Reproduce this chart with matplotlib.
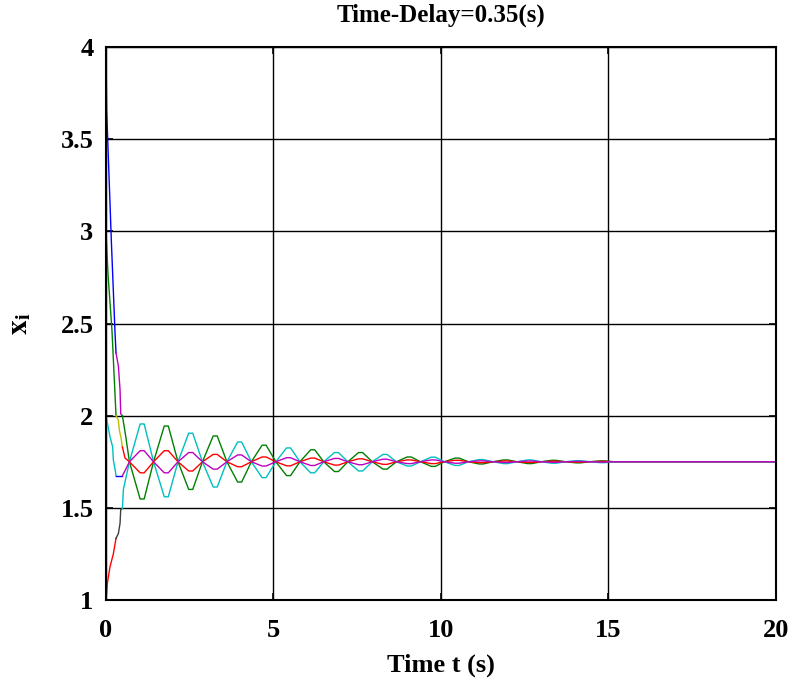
import matplotlib.pyplot as plt
from matplotlib.ticker import FormatStrFormatter

plt.rcParams['font.family'] = ['Liberation Serif', 'DejaVu Serif']
plt.rcParams['mathtext.fontset'] = 'stix'

# classic MATLAB colour order: b g r c m y k
matlab_colors = [(0, 0, 1), (0, 0.5, 0), (1, 0, 0), (0, 0.75, 0.75),
                 (0.75, 0, 0.75), (0.75, 0.75, 0), (0.25, 0.25, 0.25)]

# ---- interval 1: start-up (no delayed information yet)
a1_t1 = [0, 0.02, 0.16, 0.27, 0.30]
a1_y1 = [4.0, 3.66, 2.95, 2.45, 2.34]
a2_t1 = [0, 0.06, 0.18, 0.30]
a2_y1 = [3.0, 2.77, 2.46, 2.0]
a3_t1 = [0, 0.02, 0.04, 0.12, 0.22, 0.30]
a3_y1 = [1.0, 1.036, 1.09, 1.18, 1.25, 1.335]
a4_t1 = [0, 0.12, 0.20, 0.22, 0.28, 0.30]
a4_y1 = [2.0, 1.886, 1.83, 1.76, 1.70, 1.673]

# ---- interval 2
a1_t2 = [0.30, 0.37, 0.42, 0.44, 0.49]
a1_y2 = [2.34, 2.27, 2.14, 2.01, 2.0]
a2_t2 = [0.30, 0.37, 0.40, 0.45, 0.49]
a2_y2 = [2.0, 1.975, 1.92, 1.88, 1.83]
a3_t2 = [0.30, 0.37, 0.42, 0.44, 0.49]
a3_y2 = [1.335, 1.36, 1.416, 1.49, 1.497]
a4_t2 = [0.30, 0.49]
a4_y2 = [1.673, 1.673]

# ---- interval 3: delayed consensus, oscillating to the common value
a1_t3 = [0.49, 0.58]
a1_y3 = [2.0, 1.90]
a2_t3 = [0.49, 0.57]
a2_y3 = [1.83, 1.77]
a3_t3 = [0.49, 0.52]
a3_y3 = [1.497, 1.60]
a4_t3 = [0.49]
a4_y3 = [1.673]

t_osc = [0.70, 1.02, 1.14, 1.42, 1.74, 1.86, 2.15, 2.47, 2.59, 2.88, 3.20, 3.32,
         3.61, 3.93, 4.05, 4.34, 4.66, 4.78, 5.07, 5.39, 5.51, 5.79, 6.11, 6.23,
         6.50, 6.82, 6.94, 7.22, 7.54, 7.66, 7.95, 8.27, 8.39, 8.67, 8.99, 9.11,
         9.39, 9.71, 9.83, 10.10, 10.42, 10.54, 10.82, 11.14, 11.26, 11.55, 11.87, 11.99,
         12.27, 12.59, 12.71, 12.99, 13.31, 13.43, 13.72, 14.04, 14.16, 14.44, 14.76, 14.88,
         15.16, 20.0]

a1_osc = [1.75, 1.548, 1.548, 1.75, 1.944, 1.944, 1.75, 1.60, 1.60, 1.75, 1.89, 1.89,
          1.75, 1.64, 1.64, 1.75, 1.84, 1.84, 1.75, 1.675, 1.675, 1.75, 1.815, 1.815,
          1.75, 1.697, 1.697, 1.75, 1.80, 1.80, 1.75, 1.71, 1.71, 1.75, 1.776, 1.776,
          1.75, 1.725, 1.725, 1.75, 1.77, 1.77, 1.75, 1.738, 1.738, 1.75, 1.76, 1.76,
          1.75, 1.74, 1.74, 1.75, 1.758, 1.758, 1.75, 1.744, 1.744, 1.75, 1.755, 1.755,
          1.75, 1.75]
a2_osc = [1.75, 1.69, 1.69, 1.75, 1.81, 1.81, 1.75, 1.70, 1.70, 1.75, 1.79, 1.79,
          1.75, 1.723, 1.723, 1.75, 1.776, 1.776, 1.75, 1.728, 1.728, 1.75, 1.77, 1.77,
          1.75, 1.732, 1.732, 1.75, 1.766, 1.766, 1.75, 1.736, 1.736, 1.75, 1.76, 1.76,
          1.75, 1.74, 1.74, 1.75, 1.758, 1.758, 1.75, 1.745, 1.745, 1.75, 1.754, 1.754,
          1.75, 1.746, 1.746, 1.75, 1.753, 1.753, 1.75, 1.748, 1.748, 1.75, 1.752, 1.752,
          1.75, 1.75]
a3_osc = [1.75, 1.955, 1.955, 1.75, 1.56, 1.56, 1.75, 1.905, 1.905, 1.75, 1.613, 1.613,
          1.75, 1.857, 1.857, 1.75, 1.664, 1.664, 1.75, 1.825, 1.825, 1.75, 1.69, 1.69,
          1.75, 1.80, 1.80, 1.75, 1.70, 1.70, 1.75, 1.79, 1.79, 1.75, 1.727, 1.727,
          1.75, 1.775, 1.775, 1.75, 1.73, 1.73, 1.75, 1.762, 1.762, 1.75, 1.74, 1.74,
          1.75, 1.76, 1.76, 1.75, 1.742, 1.742, 1.75, 1.756, 1.756, 1.75, 1.745, 1.745,
          1.75, 1.75]
a4_osc = [1.75, 1.81, 1.81, 1.75, 1.69, 1.69, 1.75, 1.80, 1.80, 1.75, 1.71, 1.71,
          1.75, 1.787, 1.787, 1.75, 1.727, 1.727, 1.75, 1.772, 1.772, 1.75, 1.73, 1.73,
          1.75, 1.768, 1.768, 1.75, 1.734, 1.734, 1.75, 1.764, 1.764, 1.75, 1.74, 1.74,
          1.75, 1.76, 1.76, 1.75, 1.742, 1.742, 1.75, 1.755, 1.755, 1.75, 1.746, 1.746,
          1.75, 1.754, 1.754, 1.75, 1.747, 1.747, 1.75, 1.752, 1.752, 1.75, 1.748, 1.748,
          1.75, 1.75]

segments = [
    (a1_t1, a1_y1), (a2_t1, a2_y1), (a3_t1, a3_y1), (a4_t1, a4_y1),
    (a1_t2, a1_y2), (a2_t2, a2_y2), (a3_t2, a3_y2), (a4_t2, a4_y2),
    (a1_t3 + t_osc, a1_y3 + a1_osc), (a2_t3 + t_osc, a2_y3 + a2_osc),
    (a3_t3 + t_osc, a3_y3 + a3_osc), (a4_t3 + t_osc, a4_y3 + a4_osc),
]

fig = plt.figure(figsize=(7.92, 6.82), dpi=100)
ax = fig.add_axes([0.1338, 0.1202, 0.846, 0.8109])

# each plot call takes the next colour, like MATLAB's hold-on plotting
for i, (t, y) in enumerate(segments):
    ax.plot(t, y, color=matlab_colors[i % len(matlab_colors)], linewidth=1.0)

ax.set_xlim(0, 20)
ax.set_ylim(1, 4)
ax.set_xticks([0, 5, 10, 15, 20])
ax.set_yticks([1, 1.5, 2, 2.5, 3, 3.5, 4])
ax.yaxis.set_major_formatter(FormatStrFormatter('%g'))
ax.grid(True, color='black', linestyle='-', linewidth=1.0)
ax.set_axisbelow(True)

for s in ax.spines.values():
    s.set_linewidth(1.5)
ax.tick_params(direction='in', length=5, width=1.2, top=True, right=True,
               labelsize=19)
ax.tick_params(axis='x', pad=14)
ax.tick_params(axis='y', pad=9)
for lab in ax.get_xticklabels() + ax.get_yticklabels():
    lab.set_fontweight('bold')

ax.set_title('Time-Delay=0.35(s)', fontsize=18, fontweight='bold', pad=18)
ax.set_xlabel('Time t (s)', fontsize=19, fontweight='bold', labelpad=8)
ax.set_ylabel(r'$\mathbf{x}_\mathbf{i}$', fontsize=21, labelpad=20)

plt.savefig('out.png', dpi=100)
plt.close(fig)
